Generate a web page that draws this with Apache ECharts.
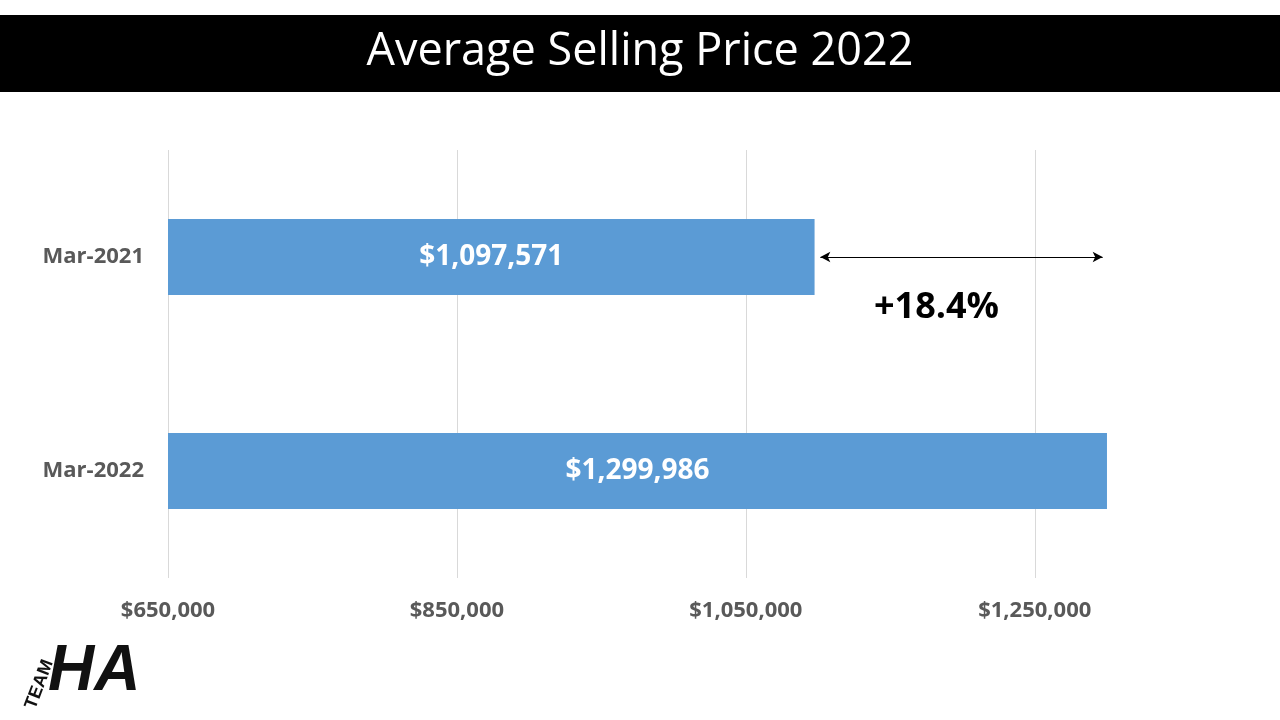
<!DOCTYPE html>
<html>
<head>
<meta charset="utf-8">
<script src="https://cdn.jsdelivr.net/npm/echarts@6/dist/echarts.min.js"></script>
<style>
  html, body { margin: 0; padding: 0; background: #fff; }
  #main { width: 1280px; height: 720px; }
</style>
</head>
<body>
<div id="main"></div>
<script>
// data
var categories = ['Mar-2021', 'Mar-2022'];
var prices = [1097571, 1299986];
var changeLabel = '+18.4%';

var fmt = function (v) { return '$' + v.toLocaleString('en-US'); };

var chart = echarts.init(document.getElementById('main'));

var option = {
    backgroundColor: '#fff',
    animation: false,
    textStyle: { fontFamily: 'Open Sans' },
    grid: { left: 168, width: 939, top: 150, bottom: 142 },
    xAxis: {
        type: 'value',
        min: 650000,
        max: 1300000,
        interval: 200000,
        axisLine: { show: false },
        axisTick: { show: false },
        splitLine: { showMaxLine: false, lineStyle: { color: '#d9d9d9' } },
        axisLabel: {
            showMaxLabel: false, margin: 22,
            color: '#595959', fontSize: 22, fontWeight: 'bold',
            formatter: fmt
        }
    },
    yAxis: {
        type: 'category',
        data: categories,
        inverse: true,
        axisLine: { show: false },
        axisTick: { show: false },
        axisLabel: { color: '#595959', fontSize: 22, fontWeight: 'bold', margin: 24 }
    },
    series: [{
        type: 'bar',
        data: prices,
        barWidth: 76,
        itemStyle: { color: '#5b9bd5' },
        label: {
            show: true, position: 'inside', color: '#fff',
            fontSize: 28, fontWeight: 'bold', formatter: function (p) { return fmt(p.value); }
        },
        markLine: {
            silent: true,
            symbol: ['arrow', 'arrow'],
            symbolSize: [8, 10],
            label: { show: false },
            lineStyle: { color: '#000', type: 'solid', width: 1.2 },
            data: [[{ coord: [prices[0] + 4000, 'Mar-2021'] }, { coord: [1297000, 'Mar-2021'] }]]
        }
    }],
    graphic: [
        { type: 'rect', left: 0, top: 15, shape: { width: 1280, height: 77 }, style: { fill: '#000' } },
        { type: 'text', left: 'center', top: 30, style: { text: 'Average Selling Price 2022', fill: '#fff', font: '45px "Open Sans"' } },
        { type: 'text', left: 874, top: 290, style: { text: changeLabel, fill: '#000', font: 'bold 36px "Open Sans"' } },
        { type: 'text', left: 48, top: 640, style: { text: 'HA', fill: '#111', font: 'italic bold 64px "Liberation Sans"' } },
        { type: 'text', x: 22, y: 705, rotation: Math.PI / 2.6, style: { text: 'TEAM', fill: '#111', font: 'bold 18px "Liberation Sans"' } }
    ]
};

chart.setOption(option);
</script>
</body>
</html>
